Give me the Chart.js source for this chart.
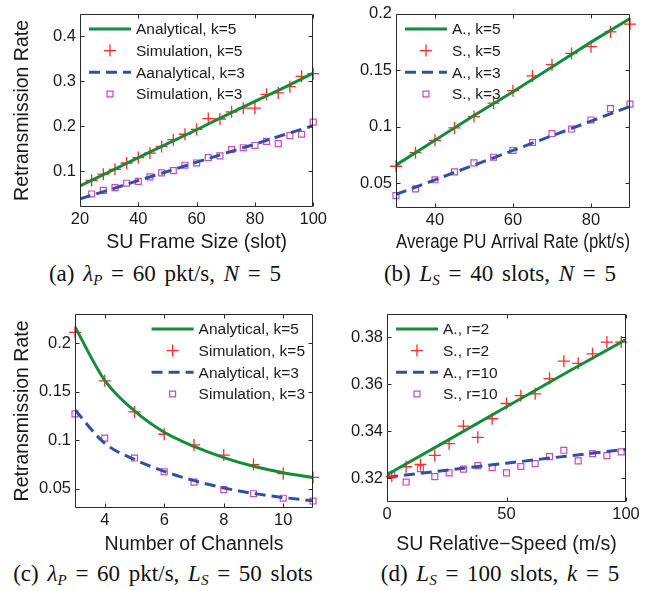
<!DOCTYPE html>
<html lang="en">
<head>
<meta charset="UTF-8">
<title>Retransmission Rate</title>
<script src="https://cdn.jsdelivr.net/npm/chart.js"></script>
<style>
    body { margin: 0; background: #fff; }
    #fig { position: relative; width: 665px; height: 591px; overflow: hidden; background: #fff; }
    canvas.panel { position: absolute; }
    .cap { position: absolute; font-family: "Liberation Serif", "Times New Roman", serif; font-size: 23px; word-spacing: 3px; color: #111; white-space: nowrap; transform: translateX(-50%); }
    .cap sub { font-size: 15px; vertical-align: -4px; }
</style>
</head>
<body>
<div id="fig">
    <canvas id="chartA" class="panel" width="330" height="255" style="left:0px;top:0px"></canvas>
    <canvas id="chartB" class="panel" width="335" height="255" style="left:330px;top:0px"></canvas>
    <canvas id="chartC" class="panel" width="330" height="255" style="left:0px;top:300px"></canvas>
    <canvas id="chartD" class="panel" width="335" height="255" style="left:330px;top:300px"></canvas>
    <div class="cap" style="left:165px;top:261px">(a) <i>λ<sub>P</sub></i> = 60 pkt/s, <i>N</i> = 5</div>
    <div class="cap" style="left:500px;top:261px">(b) <i>L<sub>S</sub></i> = 40 slots, <i>N</i> = 5</div>
    <div class="cap" style="left:163px;top:561px">(c) <i>λ<sub>P</sub></i> = 60 pkt/s, <i>L<sub>S</sub></i> = 50 slots</div>
    <div class="cap" style="left:500px;top:561px">(d) <i>L<sub>S</sub></i> = 100 slots, <i>k</i> = 5</div>
</div>
<script>
// (a) retransmission rate vs SU frame size
const frameSize = [20, 30, 40, 50, 60, 70, 80, 90, 100];
const frameAnaK5 = [0.067, 0.098, 0.130, 0.161, 0.192, 0.224, 0.255, 0.286, 0.318];
const frameAnaK3 = [0.038, 0.058, 0.079, 0.099, 0.120, 0.140, 0.160, 0.181, 0.201];
const frameSimX = [24, 28, 32, 36, 40, 44, 48, 52, 56, 60, 64, 68, 72, 76, 80, 84, 88, 92, 96, 100];
const frameSimK5 = [0.079, 0.093, 0.104, 0.118, 0.130, 0.140, 0.155, 0.170, 0.182, 0.193, 0.217, 0.216, 0.232, 0.240, 0.240, 0.271, 0.274, 0.288, 0.311, 0.317];
const frameSimK3 = [0.049, 0.057, 0.063, 0.073, 0.077, 0.087, 0.096, 0.101, 0.113, 0.118, 0.130, 0.134, 0.148, 0.152, 0.157, 0.166, 0.161, 0.179, 0.182, 0.209];
const frameXTicks = [20, 40, 60, 80, 100];
const frameYTicks = [0.1, 0.2, 0.3, 0.4];

// (b) retransmission rate vs PU arrival rate
const arrivalRate = [30, 40, 50, 60, 70, 80, 90];
const arrivalAnaK5 = [0.066, 0.088, 0.110, 0.131, 0.153, 0.175, 0.196];
const arrivalAnaK3 = [0.040, 0.053, 0.066, 0.079, 0.092, 0.105, 0.118];
const arrivalSimX = [30, 35, 40, 45, 50, 55, 60, 65, 70, 75, 80, 85, 90];
const arrivalSimK5 = [0.065, 0.077, 0.088, 0.099, 0.109, 0.121, 0.132, 0.145, 0.155, 0.165, 0.171, 0.184, 0.191];
const arrivalSimK3 = [0.039, 0.045, 0.053, 0.060, 0.068, 0.073, 0.079, 0.086, 0.094, 0.098, 0.106, 0.116, 0.120];
const arrivalXTicks = [40, 60, 80];
const arrivalYTicks = [0.05, 0.1, 0.15, 0.2];

// (c) retransmission rate vs number of channels
const channels = [3, 4, 5, 6, 7, 8, 9, 10, 11];
const channelAnaK5 = [0.2165, 0.1615, 0.130, 0.108, 0.0934, 0.0819, 0.073, 0.0664, 0.0615];
const channelSimK5 = [0.211, 0.161, 0.129, 0.106, 0.095, 0.0845, 0.0747, 0.0655, 0.0615];
const channelAnaK3 = [0.131, 0.0967, 0.080, 0.0678, 0.0582, 0.0507, 0.045, 0.0408, 0.0375];
const channelSimK3 = [0.127, 0.102, 0.0815, 0.0674, 0.0566, 0.049, 0.0447, 0.0401, 0.0372];
const channelXTicks = [4, 6, 8, 10];
const channelYTicks = [0.05, 0.1, 0.15, 0.2];

// (d) retransmission rate vs SU relative speed
const speed = [0, 25, 50, 75, 100];
const speedAnaR2 = [0.3216, 0.336, 0.3505, 0.365, 0.3791];
const speedAnaR10 = [0.3205, 0.3235, 0.3265, 0.3295, 0.3324];
const speedSimX = [2, 8, 14, 20, 26, 32, 38, 44, 50, 56, 62, 68, 74, 80, 86, 92, 98];
const speedSimR2 = [0.3209, 0.325, 0.326, 0.3298, 0.3348, 0.3423, 0.3375, 0.3454, 0.3519, 0.3552, 0.356, 0.3625, 0.3699, 0.369, 0.373, 0.378, 0.378];
const speedSimR10 = [0.3215, 0.3185, 0.3242, 0.3208, 0.3224, 0.324, 0.3255, 0.3246, 0.3224, 0.3251, 0.3263, 0.3293, 0.332, 0.3275, 0.3306, 0.3297, 0.3313];
const speedXTicks = [0, 50, 100];
const speedYTicks = [0.32, 0.34, 0.36, 0.38];

const GREEN = '#178a3c';
const RED = '#ff2a2a';
const BLUE = '#2f50a8';
const MAGENTA = '#c64bbd';
const TEXT = '#1a1a1a';
const FONT = '"Liberation Sans", Arial, sans-serif';
const TICK_SIZE = 16.5;
const LEGEND_SIZE = 15.5;
const XTITLE_SIZE = 19.5;
const YTITLE_SIZE = 19.5;

Chart.defaults.font.family = FONT;
Chart.defaults.color = TEXT;

function pairs(xs, ys) {
    return xs.map((x, i) => ({ x: x, y: ys[i] }));
}

function analytic(label, xs, ys, color, dashed, smooth) {
    return {
        label: label,
        data: pairs(xs, ys),
        borderColor: color,
        borderWidth: 3,
        borderDash: dashed ? [11, 6] : [],
        pointRadius: 0,
        cubicInterpolationMode: smooth ? 'monotone' : 'default',
        tension: 0
    };
}

function simulated(label, xs, ys, style) {
    const cross = style === 'cross';
    return {
        label: label,
        data: pairs(xs, ys),
        showLine: false,
        pointStyle: style,
        pointRadius: cross ? 6 : 4.2,
        pointBorderWidth: cross ? 1.3 : 1.2,
        pointBorderColor: cross ? RED : MAGENTA,
        pointBackgroundColor: 'rgba(0,0,0,0)',
        borderColor: cross ? RED : MAGENTA,
        clip: false
    };
}

function drawMarker(ctx, d, x, y) {
    const r = d.pointRadius;
    ctx.strokeStyle = d.pointBorderColor;
    ctx.lineWidth = d.pointBorderWidth;
    ctx.beginPath();
    if (d.pointStyle === 'cross') {
        ctx.moveTo(x - r, y); ctx.lineTo(x + r, y);
        ctx.moveTo(x, y - r); ctx.lineTo(x, y + r);
    } else {
        const s = r * Math.SQRT1_2;
        ctx.rect(x - s, y - s, 2 * s, 2 * s);
    }
    ctx.stroke();
}

// legend drawn inside the axes, like the matlab one
const insideLegend = {
    id: 'insideLegend',
    afterDatasetsDraw(chart, args, opts) {
        const ctx = chart.ctx, area = chart.chartArea;
        const sets = chart.data.datasets;
        ctx.save();
        ctx.font = LEGEND_SIZE + 'px ' + FONT;
        const textW = Math.max(...sets.map(d => ctx.measureText(d.label).width));
        const sample = 42, gap = 5;
        const x0 = opts.align === 'right' ? area.right - 8 - textW - gap - sample : area.left + 9;
        sets.forEach((d, i) => {
            const y = area.top + 15 + i * 21.7;
            if (d.showLine === false) {
                drawMarker(ctx, d, x0 + sample / 2, y);
            } else {
                ctx.strokeStyle = d.borderColor;
                ctx.lineWidth = d.borderWidth;
                ctx.setLineDash(d.borderDash);
                ctx.beginPath();
                ctx.moveTo(x0, y);
                ctx.lineTo(x0 + sample, y);
                ctx.stroke();
                ctx.setLineDash([]);
            }
            ctx.fillStyle = TEXT;
            ctx.textAlign = 'left';
            ctx.textBaseline = 'middle';
            ctx.fillText(d.label, x0 + sample + gap, y + 1);
        });
        ctx.restore();
    }
};

// box around the axes with inward ticks on all four sides
const matlabFrame = {
    id: 'matlabFrame',
    afterDatasetsDraw(chart) {
        const ctx = chart.ctx, a = chart.chartArea;
        const xs = chart.scales.x, ys = chart.scales.y;
        const L = Math.round(a.left) + 0.5, R = Math.round(a.right) - 0.5;
        const T = Math.round(a.top) + 0.5, B = Math.round(a.bottom) - 0.5;
        const tl = 4;
        ctx.save();
        ctx.strokeStyle = '#2a2a2a';
        ctx.lineWidth = 1;
        ctx.beginPath();
        ctx.rect(L, T, R - L, B - T);
        xs.ticks.forEach(t => {
            const px = Math.round(xs.getPixelForValue(t.value)) + 0.5;
            ctx.moveTo(px, B); ctx.lineTo(px, B - tl);
            ctx.moveTo(px, T); ctx.lineTo(px, T + tl);
        });
        ys.ticks.forEach(t => {
            const py = Math.round(ys.getPixelForValue(t.value)) + 0.5;
            ctx.moveTo(L, py); ctx.lineTo(L + tl, py);
            ctx.moveTo(R, py); ctx.lineTo(R - tl, py);
        });
        ctx.stroke();
        ctx.restore();
    }
};

function makePanel(id, p) {
    const tickFont = { family: FONT, size: TICK_SIZE };
    return new Chart(document.getElementById(id), {
        type: 'line',
        data: { datasets: p.datasets },
        options: {
            responsive: false,
            animation: false,
            events: [],
            layout: { padding: { top: p.padT, right: p.padR, left: 0, bottom: 0 } },
            plugins: {
                legend: { display: false },
                tooltip: { enabled: false },
                insideLegend: { align: p.legendAlign }
            },
            scales: {
                x: {
                    type: 'linear',
                    min: p.xMin,
                    max: p.xMax,
                    grid: { display: false, drawTicks: false },
                    border: { display: false },
                    ticks: { font: tickFont, color: TEXT, padding: 3, maxRotation: 0, autoSkip: false, callback: v => String(v) },
                    afterBuildTicks: s => { s.ticks = p.xTicks.map(v => ({ value: v })); },
                    afterFit: s => { s.height = p.xH; },
                    title: { display: true, text: p.xTitle, color: TEXT, font: { family: FONT, size: XTITLE_SIZE, lineHeight: 1 }, padding: { top: 0, bottom: p.xTitlePad } }
                },
                y: {
                    type: 'linear',
                    min: p.yMin,
                    max: p.yMax,
                    grid: { display: false, drawTicks: false },
                    border: { display: false },
                    ticks: { font: tickFont, color: TEXT, padding: 4, autoSkip: false, callback: v => String(v) },
                    afterBuildTicks: s => { s.ticks = p.yTicks.map(v => ({ value: v })); },
                    afterFit: s => { s.width = p.yW; },
                    title: { display: !!p.yTitle, text: p.yTitle || '', color: TEXT, font: { family: FONT, size: YTITLE_SIZE, lineHeight: 1 }, padding: { top: 13, bottom: 0 } }
                }
            }
        },
        plugins: [matlabFrame, insideLegend]
    });
}

makePanel('chartA', {
    datasets: [
        analytic('Analytical, k=5', frameSize, frameAnaK5, GREEN, false, false),
        simulated('Simulation, k=5', frameSimX, frameSimK5, 'cross'),
        analytic('Aanalytical, k=3', frameSize, frameAnaK3, BLUE, true, false),
        simulated('Simulation, k=3', frameSimX, frameSimK3, 'rect')
    ],
    xMin: 20, xMax: 100, yMin: 0.02, yMax: 0.45,
    xTicks: frameXTicks, yTicks: frameYTicks,
    xTitle: 'SU Frame Size (slot)', yTitle: 'Retransmission Rate',
    yW: 80, padR: 13, padT: 5, xH: 48, xTitlePad: 3, legendAlign: 'left'
});

makePanel('chartB', {
    datasets: [
        analytic('A., k=5', arrivalRate, arrivalAnaK5, GREEN, false, false),
        simulated('S., k=5', arrivalSimX, arrivalSimK5, 'cross'),
        analytic('A., k=3', arrivalRate, arrivalAnaK3, BLUE, true, false),
        simulated('S., k=3', arrivalSimX, arrivalSimK3, 'rect')
    ],
    xMin: 30, xMax: 90, yMin: 0.028, yMax: 0.2,
    xTicks: arrivalXTicks, yTicks: arrivalYTicks,
    xTitle: 'Average PU Arrival Rate (pkt/s)',
    yW: 66, padR: 35, padT: 5, xH: 47, xTitlePad: 3, legendAlign: 'left'
});

makePanel('chartC', {
    datasets: [
        analytic('Analytical, k=5', channels, channelAnaK5, GREEN, false, true),
        simulated('Simulation, k=5', channels, channelSimK5, 'cross'),
        analytic('Analytical, k=3', channels, channelAnaK3, BLUE, true, true),
        simulated('Simulation, k=3', channels, channelSimK3, 'rect')
    ],
    xMin: 3, xMax: 11, yMin: 0.03, yMax: 0.23,
    xTicks: channelXTicks, yTicks: channelYTicks,
    xTitle: 'Number of Channels', yTitle: 'Retransmission Rate',
    yW: 75, padR: 17, padT: 5, xH: 47, xTitlePad: 1, legendAlign: 'right'
});

makePanel('chartD', {
    datasets: [
        analytic('A., r=2', speed, speedAnaR2, GREEN, false, false),
        simulated('S., r=2', speedSimX, speedSimR2, 'cross'),
        analytic('A., r=10', speed, speedAnaR10, BLUE, true, false),
        simulated('S., r=10', speedSimX, speedSimR10, 'rect')
    ],
    xMin: 0, xMax: 100, yMin: 0.31, yMax: 0.39,
    xTicks: speedXTicks, yTicks: speedYTicks,
    xTitle: 'SU Relative\u2212Speed (m/s)',
    yW: 57, padR: 39, padT: 5, xH: 53, xTitlePad: 1, legendAlign: 'left'
});
</script>
</body>
</html>
